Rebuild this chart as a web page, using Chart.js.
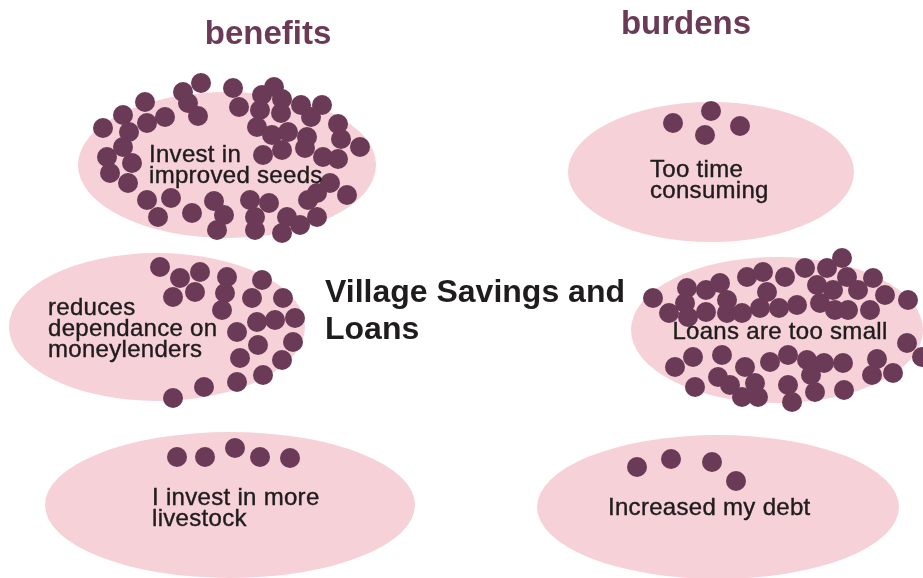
<!DOCTYPE html>
<html>
<head>
<meta charset="utf-8">
<script src="https://cdn.jsdelivr.net/npm/chart.js@4.4.1/dist/chart.umd.min.js"></script>
<style>
    body { margin: 0; background: #fff; }
    #chart { display: block; }
</style>
</head>
<body>
<canvas id="chart" width="923" height="578"></canvas>
<script>
// one dot per respondent, [x, y] on a 923 x 578 board (y grows downwards)
const seeds_dots = [
    [201,83],[183,92],[233,88],[274,87],[262,95],[145,102],[188,103],[198,116],[239,107],
    [282,99],[301,105],[322,105],[123,115],[165,117],[147,123],[260,110],[281,113],[103,128],
    [129,132],[257,127],[272,135],[288,132],[311,117],[338,124],[307,137],[341,139],[360,147],
    [123,147],[107,157],[132,163],[110,173],[128,183],[263,155],[282,150],[305,148],[323,157],
    [338,159],[330,183],[317,193],[347,195],[308,200],[317,217],[147,200],[171,198],[158,217],
    [192,213],[214,201],[224,215],[217,230],[250,200],[269,203],[255,217],[255,230],[287,217],
    [300,225],[282,233]
];
const lenders_dots = [
    [160,267],[180,278],[200,272],[227,277],[262,280],[173,297],[195,292],[225,293],[252,298],
    [283,298],[222,310],[257,322],[275,320],[295,318],[237,332],[258,345],[293,342],[240,358],
    [282,360],[237,382],[263,375],[204,387],[173,398]
];
const livestock_dots = [[177,457],[205,457],[235,448],[260,457],[290,458]];
const time_dots = [[673,123],[711,111],[705,135],[740,126]];
const small_loans_dots = [
    [653,298],[669,313],[687,288],[685,303],[688,317],[706,290],[706,312],[720,283],[727,300],
    [727,313],[742,313],[747,277],[763,272],[767,292],[760,308],[779,308],[785,277],[797,305],
    [805,268],[817,285],[820,303],[827,268],[842,258],[847,277],[833,290],[835,310],[848,310],
    [858,290],[873,278],[870,310],[885,295],[908,300],[907,343],[922,357],
    [675,367],[693,357],[695,387],[722,355],[718,377],[730,385],[745,367],[755,383],[742,397],
    [758,397],[770,362],[788,355],[788,385],[792,402],[807,360],[811,375],[824,363],[815,392],
    [843,363],[844,390],[877,359],[872,375],[893,373]
];
const debt_dots = [[637,467],[671,459],[712,462],[736,481]];

const answers = [
    ["Invest in", "improved seeds"],
    ["reduces", "dependance on", "moneylenders"],
    ["I invest in more", "livestock"],
    ["Too time", "consuming"],
    ["Loans are too small"],
    ["Increased my debt"]
];
const answer_dots = [seeds_dots, lenders_dots, livestock_dots, time_dots, small_loans_dots, debt_dots];

// layout of the answer bubbles and their labels
const bubbles = [
    { cx: 227, cy: 165, rx: 149, ry: 73, tx: 149, ty: 155, align: "left" },
    { cx: 157, cy: 327, rx: 148, ry: 74, tx: 48, ty: 308, align: "left" },
    { cx: 230, cy: 505, rx: 185, ry: 73, tx: 152, ty: 498, align: "left" },
    { cx: 711, cy: 172, rx: 143, ry: 70, tx: 650, ty: 170, align: "left" },
    { cx: 777, cy: 330, rx: 146, ry: 73, tx: 780, ty: 332, align: "center" },
    { cx: 718, cy: 507, rx: 181, ry: 72, tx: 608, ty: 508, align: "left" }
];

const DOT_COLOR = "#6b3a57";
const BUBBLE_COLOR = "#f7d1d8";
const TEXT_COLOR = "#1f1c1d";

const bubble_plugin = {
    id: "bubbles",
    beforeDatasetsDraw(chart) {
        const ctx = chart.ctx;
        const xs = chart.scales.x;
        const ys = chart.scales.y;
        ctx.save();
        ctx.fillStyle = BUBBLE_COLOR;
        bubbles.forEach((b) => {
            const cx = xs.getPixelForValue(b.cx);
            const cy = ys.getPixelForValue(b.cy);
            const rx = Math.abs(xs.getPixelForValue(b.cx + b.rx) - cx);
            const ry = Math.abs(ys.getPixelForValue(b.cy + b.ry) - cy);
            ctx.beginPath();
            ctx.ellipse(cx, cy, rx, ry, 0, 0, Math.PI * 2);
            ctx.fill();
        });
        ctx.restore();
    },
    afterDatasetsDraw(chart) {
        const ctx = chart.ctx;
        const xs = chart.scales.x;
        const ys = chart.scales.y;
        ctx.save();
        ctx.textBaseline = "middle";

        // answer labels, a thin stroke gives them a little more weight
        ctx.fillStyle = TEXT_COLOR;
        ctx.strokeStyle = TEXT_COLOR;
        ctx.lineWidth = 0.4;
        ctx.font = "24px 'Liberation Sans', Arial, sans-serif";
        ctx.letterSpacing = "0.3px";
        bubbles.forEach((b, i) => {
            ctx.textAlign = b.align;
            answers[i].forEach((line, j) => {
                const x = xs.getPixelForValue(b.tx);
                const y = ys.getPixelForValue(b.ty + j * 21);
                ctx.fillText(line, x, y);
                ctx.strokeText(line, x, y);
            });
        });

        // centre title
        ctx.textAlign = "left";
        ctx.letterSpacing = "0px";
        ctx.font = "bold 32px 'Liberation Sans', Arial, sans-serif";
        ctx.fillText("Village Savings and", xs.getPixelForValue(325), ys.getPixelForValue(293));
        ctx.fillText("Loans", xs.getPixelForValue(325), ys.getPixelForValue(330));

        // column headers
        ctx.fillStyle = DOT_COLOR;
        ctx.textAlign = "center";
        ctx.font = "bold 33px 'Liberation Sans', Arial, sans-serif";
        ctx.fillText("benefits", xs.getPixelForValue(268), ys.getPixelForValue(35));
        ctx.fillText("burdens", xs.getPixelForValue(686), ys.getPixelForValue(25));
        ctx.restore();
    }
};

const chart = new Chart(document.getElementById("chart"), {
    type: "scatter",
    data: {
        datasets: answer_dots.map((dots, i) => ({
            label: answers[i].join(" "),
            data: dots.map((d) => ({ x: d[0], y: d[1] })),
            pointRadius: 10,
            pointHoverRadius: 10,
            pointBorderWidth: 0,
            backgroundColor: DOT_COLOR,
            borderColor: DOT_COLOR,
            clip: false
        }))
    },
    options: {
        responsive: false,
        animation: false,
        events: [],
        layout: { padding: 0, autoPadding: false },
        scales: {
            x: { type: "linear", min: 0, max: 923, display: false },
            y: { type: "linear", min: 0, max: 578, reverse: true, display: false }
        },
        plugins: {
            legend: { display: false },
            tooltip: { enabled: false }
        }
    },
    plugins: [bubble_plugin]
});
</script>
</body>
</html>
